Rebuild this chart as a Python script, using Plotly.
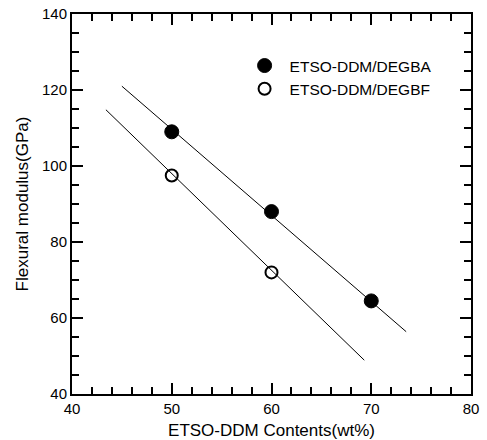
import plotly.graph_objects as go

# Data
x_ba = [50, 60, 70]
y_ba = [109, 88, 64.5]
x_bf = [50, 60]
y_bf = [97.5, 72]

# Fitted lines (endpoints)
fit_ba_x = [45.0, 73.5]
fit_ba_y = [121.0, 56.4]
fit_bf_x = [43.4, 69.3]
fit_bf_y = [114.8, 48.9]

x_ticks = [40, 50, 60, 70, 80]
y_ticks = [40, 60, 80, 100, 120, 140]

font_family = "Liberation Sans, Arial, sans-serif"

fig = go.Figure()
fig.add_trace(go.Scatter(x=fit_ba_x, y=fit_ba_y, mode="lines",
                         line=dict(color="black", width=1), showlegend=False, hoverinfo="skip"))
fig.add_trace(go.Scatter(x=fit_bf_x, y=fit_bf_y, mode="lines",
                         line=dict(color="black", width=1), showlegend=False, hoverinfo="skip"))
fig.add_trace(go.Scatter(x=x_ba, y=y_ba, mode="markers", name="ETSO-DDM/DEGBA",
                         marker=dict(symbol="circle", size=14, color="black",
                                     line=dict(color="black", width=1))))
fig.add_trace(go.Scatter(x=x_bf, y=y_bf, mode="markers", name="ETSO-DDM/DEGBF",
                         marker=dict(symbol="circle-open", size=12, color="black",
                                     line=dict(color="black", width=2))))

axis_common = dict(
    showline=True, linecolor="black", linewidth=2, mirror="ticks",
    ticks="inside", ticklen=11, tickwidth=2, tickcolor="black",
    showgrid=False, zeroline=False, automargin=False,
    ticklabeloverflow="allow",
    tickfont=dict(family=font_family, size=15, color="black"),
)

fig.update_xaxes(range=[40, 80], tickvals=x_ticks,
                 minor=dict(ticks="inside", ticklen=7, tickwidth=1.5, tickcolor="black", dtick=2, showgrid=False),
                 title=dict(text="ETSO-DDM Contents(wt%)", font=dict(family=font_family, size=17, color="black"), standoff=20),
                 **axis_common)
fig.update_yaxes(range=[40, 140], tickvals=y_ticks,
                 minor=dict(ticks="inside", ticklen=7, tickwidth=1.5, tickcolor="black", dtick=5, showgrid=False),
                 title=dict(text="Flexural modulus(GPa)", font=dict(family=font_family, size=17, color="black"), standoff=9),
                 **axis_common)

fig.update_layout(
    width=487, height=440,
    margin=dict(l=72, r=16, t=14, b=46),
    paper_bgcolor="white", plot_bgcolor="white",
    showlegend=True,
    legend=dict(x=0.42, y=0.908, xanchor="left", yanchor="top",
                bgcolor="rgba(0,0,0,0)", font=dict(family=font_family, size=15.5, color="black"),
                itemwidth=40, tracegroupgap=0),
)

# remove the default 8px page margin so the figure fills the window exactly
fig.write_html("out.html", config={"displayModeBar": False},
               post_script="document.body.style.margin='0';")
